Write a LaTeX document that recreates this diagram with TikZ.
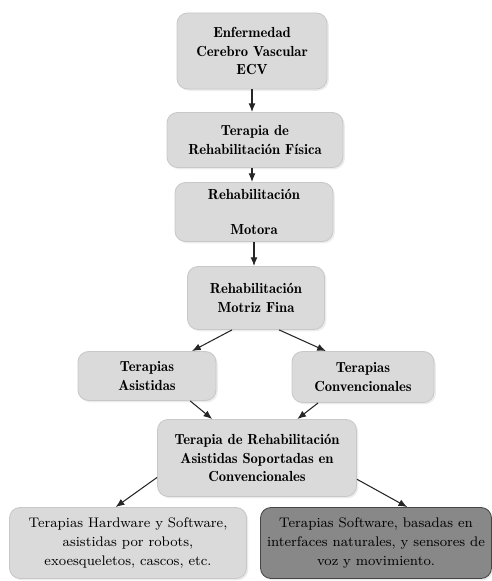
\documentclass[tikz,border=0pt]{standalone}
\usepackage{xcolor}
\usepackage{tikz}
\usetikzlibrary{arrows.meta,shadows}

\definecolor{boxgray}{RGB}{218,218,218}
\definecolor{boxline}{RGB}{200,200,200}
\definecolor{darkfill}{RGB}{136,136,136}
\definecolor{darkline}{RGB}{70,70,70}

\begin{document}
\begin{tikzpicture}[x=0.02cm, y=-0.02cm,
    etapa/.style={draw=boxline, line width=0.5pt, fill=boxgray, rounded corners=6pt,
        align=center, inner sep=0pt, font=\fontsize{8.3}{10.5}\fontseries{b}\selectfont,
        drop shadow={opacity=0.15, shadow xshift=1pt, shadow yshift=-1pt}},
    final/.style={etapa, font=\fontsize{7.9}{11}\selectfont},
    flecha/.style={line width=0.6pt, black!85, -{Latex[length=5pt, width=4pt]}}]
    \useasboundingbox (0,0) rectangle (492,581);
    % Niveles superiores
    \node[etapa, minimum width=150*0.02cm, minimum height=76*0.02cm] (ecv) at (252,51)
        {Enfermedad\\Cerebro Vascular\\ECV};
    \node[etapa, minimum width=176*0.02cm, minimum height=55*0.02cm] (fisica) at (255,140)
        {Terapia de\\Rehabilitaci\'on F\'isica};
    \node[etapa, minimum width=158*0.02cm, minimum height=59*0.02cm] (motora) at (254,212)
        {Rehabilitaci\'on\\[9pt]Motora};
    \node[etapa, minimum width=137*0.02cm, minimum height=63*0.02cm] (fina) at (256,298)
        {Rehabilitaci\'on\\Motriz Fina};
    %
    \node[etapa, minimum width=138*0.02cm, minimum height=49*0.02cm] (asist) at (147,376)
        {Terapias\\Asistidas};
    \node[etapa, minimum width=142*0.02cm, minimum height=51*0.02cm] (conv) at (363,377)
        {Terapias\\Convencionales};
    \node[etapa, minimum width=199*0.02cm, minimum height=77*0.02cm] (soport) at (257,458)
        {Terapia de Rehabilitaci\'on\\Asistidas Soportadas en\\Convencionales};
    % Niveles inferiores
    \node[final, minimum width=237*0.02cm, minimum height=71*0.02cm] (hard) at (128,543)
        {Terapias Hardware y Software,\\asistidas por robots,\\exoesqueletos, cascos, etc.};
    \node[final, draw=darkline, fill=darkfill, minimum width=231*0.02cm, minimum height=71*0.02cm] (soft) at (376,543)
        {Terapias Software, basadas en\\interfaces naturales, y sensores de\\voz y movimiento.};
    % Flechas
    \draw[flecha] (ecv) -- (ecv |- fisica.north);
    \draw[flecha] (fisica.south -| ecv) -- (ecv |- motora.north);
    \draw[flecha] (motora.south) -- (motora |- fina.north);
    \draw[flecha] (fina.233) -- (asist.29);
    \draw[flecha] (fina.306) -- (conv.145);
    \draw[flecha] (asist.330) -- (soport.139);
    \draw[flecha] (conv.210) -- (soport.44);
    \draw[flecha] (soport.191) -- (hard.109);
    \draw[flecha] (soport.348) -- (soft.49);
\end{tikzpicture}
\end{document}
